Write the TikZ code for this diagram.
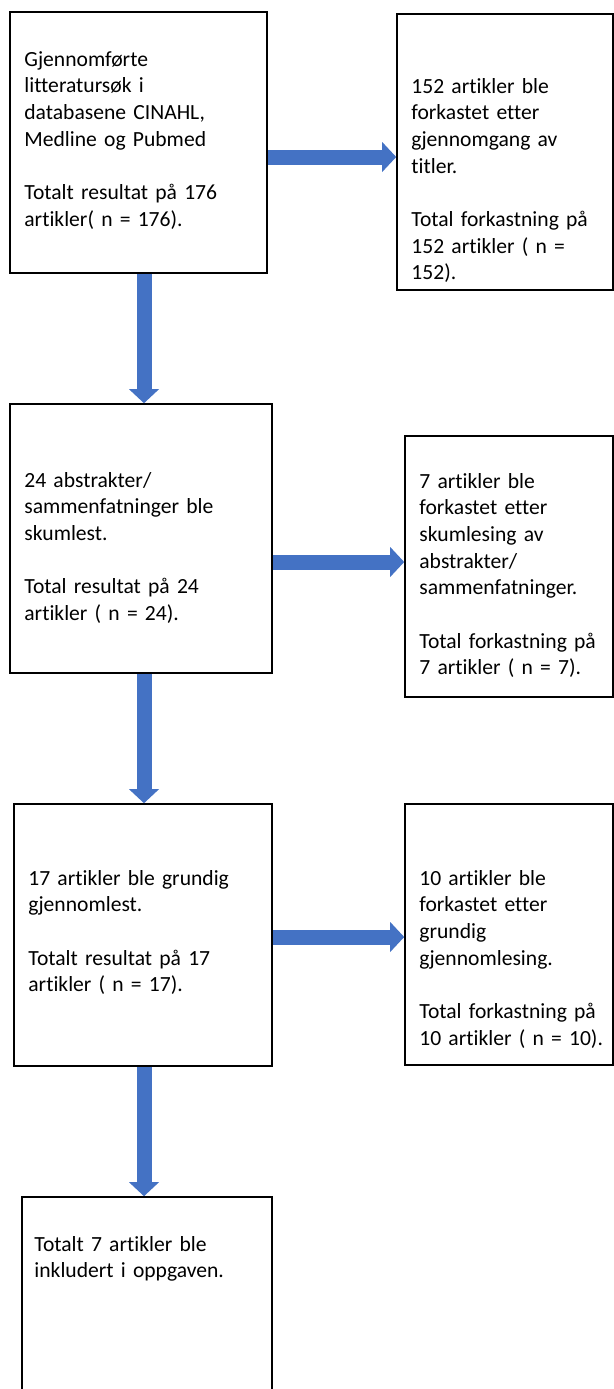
\documentclass[tikz,border=0pt]{standalone}
\usepackage{fontspec}
\setmainfont[Ligatures=CommonOff]{Carlito}
\usetikzlibrary{arrows.meta}
\definecolor{flowblue}{HTML}{4472C4}
\begin{document}
\begin{tikzpicture}[x=0.5pt,y=-0.5pt,
 box/.style={draw,line width=0.8pt,rectangle,inner sep=0pt},
 txt/.style={anchor=base west,inner sep=0pt,align=left,text width=125pt,font=\fontsize{10.8}{13.35}\selectfont},
 flow/.style={draw=flowblue,line width=7.5pt,-{Triangle[width=15pt,length=7pt,line width=0pt]}}]
 \useasboundingbox (0,0) rectangle (614,1389);
 % left column
 \node[box,minimum width=128.5pt,minimum height=130.5pt] (b1) at (138.5,142.5) {};
 \node[box,minimum width=131pt,minimum height=134.5pt] (b3) at (141,538.5) {};
 \node[box,minimum width=129pt,minimum height=131pt] (b5) at (143,935) {};
 \node[box,minimum width=125pt,minimum height=101.5pt] (b7) at (147,1298.5) {};
 % right column
 \node[box,minimum width=108pt,minimum height=138pt] (b2) at (505,152) {};
 \node[box,minimum width=104pt,minimum height=130.5pt] (b4) at (509,566.5) {};
 \node[box,minimum width=104pt,minimum height=130.5pt] (b6) at (509,934.5) {};
 % texts
 \node[txt] (t1) at (24,66) {Gjennomførte\\ litteratursøk i\\ databasene CINAHL,\\ Medline og Pubmed\\[13.35pt] Totalt resultat på 176\\ artikler( n = 176).};
 \node[txt] (t2) at (411,93) {152 artikler ble\\ forkastet etter\\ gjennomgang av\\ titler.\\[13.35pt] Total forkastning på\\ 152 artikler ( n =\\ 152).};
 \node[txt] (t3) at (24,487) {24 abstrakter/\\ sammenfatninger ble\\ skumlest.\\[13.35pt] Total resultat på 24\\ artikler ( n = 24).};
 \node[txt] (t4) at (419,488) {7 artikler ble\\ forkastet etter\\ skumlesing av\\ abstrakter/\\ sammenfatninger.\\[13.35pt] Total forkastning på\\ 7 artikler ( n = 7).};
 \node[txt] (t5) at (28,885) {17 artikler ble grundig\\ gjennomlest.\\[13.35pt] Totalt resultat på 17\\ artikler ( n = 17).};
 \node[txt] (t6) at (419,885) {10 artikler ble\\ forkastet etter\\ grundig\\ gjennomlesing.\\[13.35pt] Total forkastning på\\ 10 artikler ( n = 10).};
 \node[txt] (t7) at (34,1251) {Totalt 7 artikler ble\\ inkludert i oppgaven.};
 % arrows
 \coordinate (axis) at (144,0);
 \draw[flow] (b1.south -| axis) -- (b3.north -| axis);
 \draw[flow] (b3.south -| axis) -- (b5.north -| axis);
 \draw[flow] (b5.south -| axis) -- (b7.north -| axis);
 \draw[flow] (b1.east |- 0,157) -- (b2.west |- 0,157);
 \draw[flow] (b3.east |- 0,562) -- (b4.west |- 0,562);
 \draw[flow] (b5.east |- 0,937) -- (b6.west |- 0,937);
\end{tikzpicture}
\end{document}
